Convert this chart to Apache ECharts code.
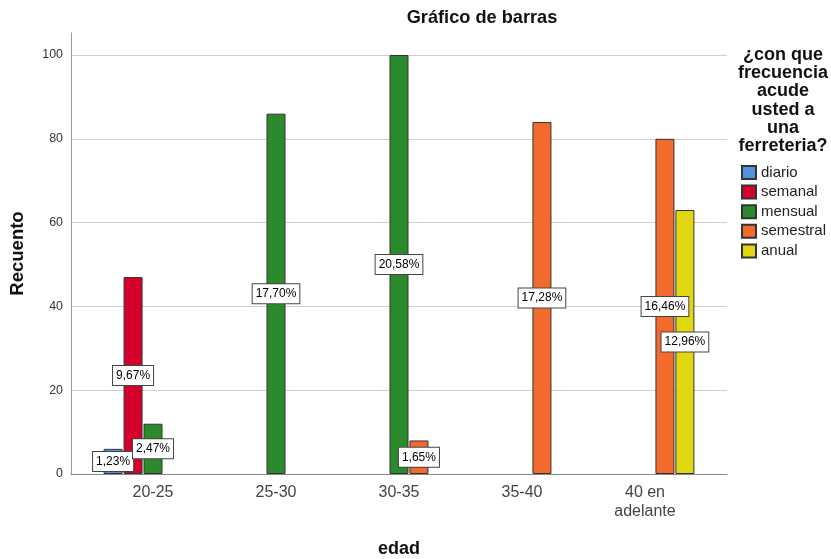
<!DOCTYPE html>
<html>
<head>
<meta charset="utf-8">
<title>Gráfico de barras</title>
<script src="https://cdn.jsdelivr.net/npm/echarts@6/dist/echarts.min.js"></script>
<style>
  html, body { margin: 0; padding: 0; background: #ffffff; }
  #chart { width: 831px; height: 559px; }
</style>
</head>
<body>
<div id="chart"></div>
<script>
// Age groups (x axis) and answer categories (clusters)
const categories = ['20-25', '25-30', '30-35', '35-40', '40 en\nadelante'];
const seriesNames = ['diario', 'semanal', 'mensual', 'semestral', 'anual'];

// Counts per age group for each answer
const diario    = [6, 0, 0, 0, 0];
const semanal   = [47, 0, 0, 0, 0];
const mensual   = [12, 86, 100, 0, 0];
const semestral = [0, 0, 8, 84, 80];
const anual     = [0, 0, 0, 0, 63];

// Y axis tick values
const yTicks = [0, 20, 40, 60, 80, 100];

const seriesColors = ['#4e92e0', '#d6002c', '#2b8a2b', '#f26a2c', '#e2d812'];
const FONT = "'Liberation Sans', Arial, sans-serif";

const allSeries = [diario, semanal, mensual, semestral, anual];
const total = allSeries.reduce((s, arr) => s + arr.reduce((a, b) => a + b, 0), 0);

function pctLabel(v) {
  return (v / total * 100).toFixed(2).replace('.', ',') + '%';
}

const chart = echarts.init(document.getElementById('chart'), null, { renderer: 'canvas' });

const barSeries = allSeries.map((arr, i) => ({
  name: seriesNames[i],
  type: 'bar',
  xAxisIndex: 1,
  yAxisIndex: 1,
  barWidth: 19,
  barGap: '5%',
  data: arr.map(v => (v === 0 ? '-' : v)),
  itemStyle: { color: seriesColors[i], borderColor: '#333333', borderWidth: 1 },
  label: {
    show: true,
    position: 'inside',
    formatter: p => pctLabel(p.value),
    fontFamily: FONT,
    fontSize: 12,
    color: '#000000',
    backgroundColor: '#ffffff',
    borderColor: '#444444',
    borderWidth: 1,
    padding: [4, 3, 3, 3]
  },
  emphasis: { disabled: true }
}));

const option = {
  animation: false,
  backgroundColor: '#ffffff',
  textStyle: { fontFamily: FONT },
  title: [
    {
      text: 'Gráfico de barras',
      left: 482,
      top: 9,
      padding: 0,
      textAlign: 'center',
      textStyle: { fontFamily: FONT, fontSize: 18.2, fontWeight: 'bold', color: '#111111' }
    },
    {
      text: '¿con que\nfrecuencia\nacude\nusted a\nuna\nferreteria?',
      left: 783,
      top: 46,
      padding: 0,
      textAlign: 'center',
      textStyle: { fontFamily: FONT, fontSize: 18, fontWeight: 'bold', color: '#111111', lineHeight: 18.2 }
    }
  ],
  legend: {
    orient: 'vertical',
    left: 741,
    top: 165,
    padding: 0,
    icon: 'rect',
    itemWidth: 14,
    itemHeight: 13,
    itemGap: 4.6,
    selectedMode: false,
    data: seriesNames,
    textStyle: { fontFamily: FONT, fontSize: 15, color: '#222222' }
  },
  grid: [
    // frame: gridlines, y ticks, x axis line
    { left: 71, top: 55, width: 656, height: 419, containLabel: false, outerBoundsMode: 'none' },
    // bars
    { left: 91.5, top: 33, width: 615, height: 441, containLabel: false, outerBoundsMode: 'none' }
  ],
  xAxis: [
    {
      gridIndex: 0,
      type: 'value',
      min: 0,
      max: 1,
      axisLine: { show: true, onZero: false, lineStyle: { color: '#888888', width: 1 } },
      axisTick: { show: false },
      axisLabel: { show: false },
      splitLine: { show: false }
    },
    {
      gridIndex: 1,
      type: 'category',
      data: categories,
      axisLine: { show: false },
      axisTick: { show: false },
      axisLabel: {
        fontFamily: FONT,
        fontSize: 16,
        color: '#444444',
        margin: 9,
        lineHeight: 19
      },
      name: 'edad',
      nameLocation: 'middle',
      nameGap: 66,
      nameTextStyle: { fontFamily: FONT, fontSize: 18, fontWeight: 'bold', color: '#111111' }
    }
  ],
  yAxis: [
    {
      gridIndex: 0,
      type: 'value',
      min: yTicks[0],
      max: yTicks[yTicks.length - 1],
      interval: yTicks[1] - yTicks[0],
      axisLine: { show: false },
      axisTick: { show: false },
      axisLabel: { fontFamily: FONT, fontSize: 12.4, color: '#333333', margin: 8 },
      splitLine: { show: true, lineStyle: { color: '#d0d0d0', width: 1 } }
    },
    {
      gridIndex: 1,
      type: 'value',
      min: 0,
      max: 100 * 441 / 419,
      offset: 20.5,
      axisLine: { show: true, lineStyle: { color: '#999999', width: 1 } },
      axisTick: { show: false },
      axisLabel: { show: false },
      splitLine: { show: false },
      name: 'Recuento',
      nameLocation: 'middle',
      nameRotate: 90,
      nameGap: 44,
      nameTextStyle: { fontFamily: FONT, fontSize: 18.5, fontWeight: 'bold', color: '#111111' }
    }
  ],
  series: barSeries
};

chart.setOption(option);
</script>
</body>
</html>
